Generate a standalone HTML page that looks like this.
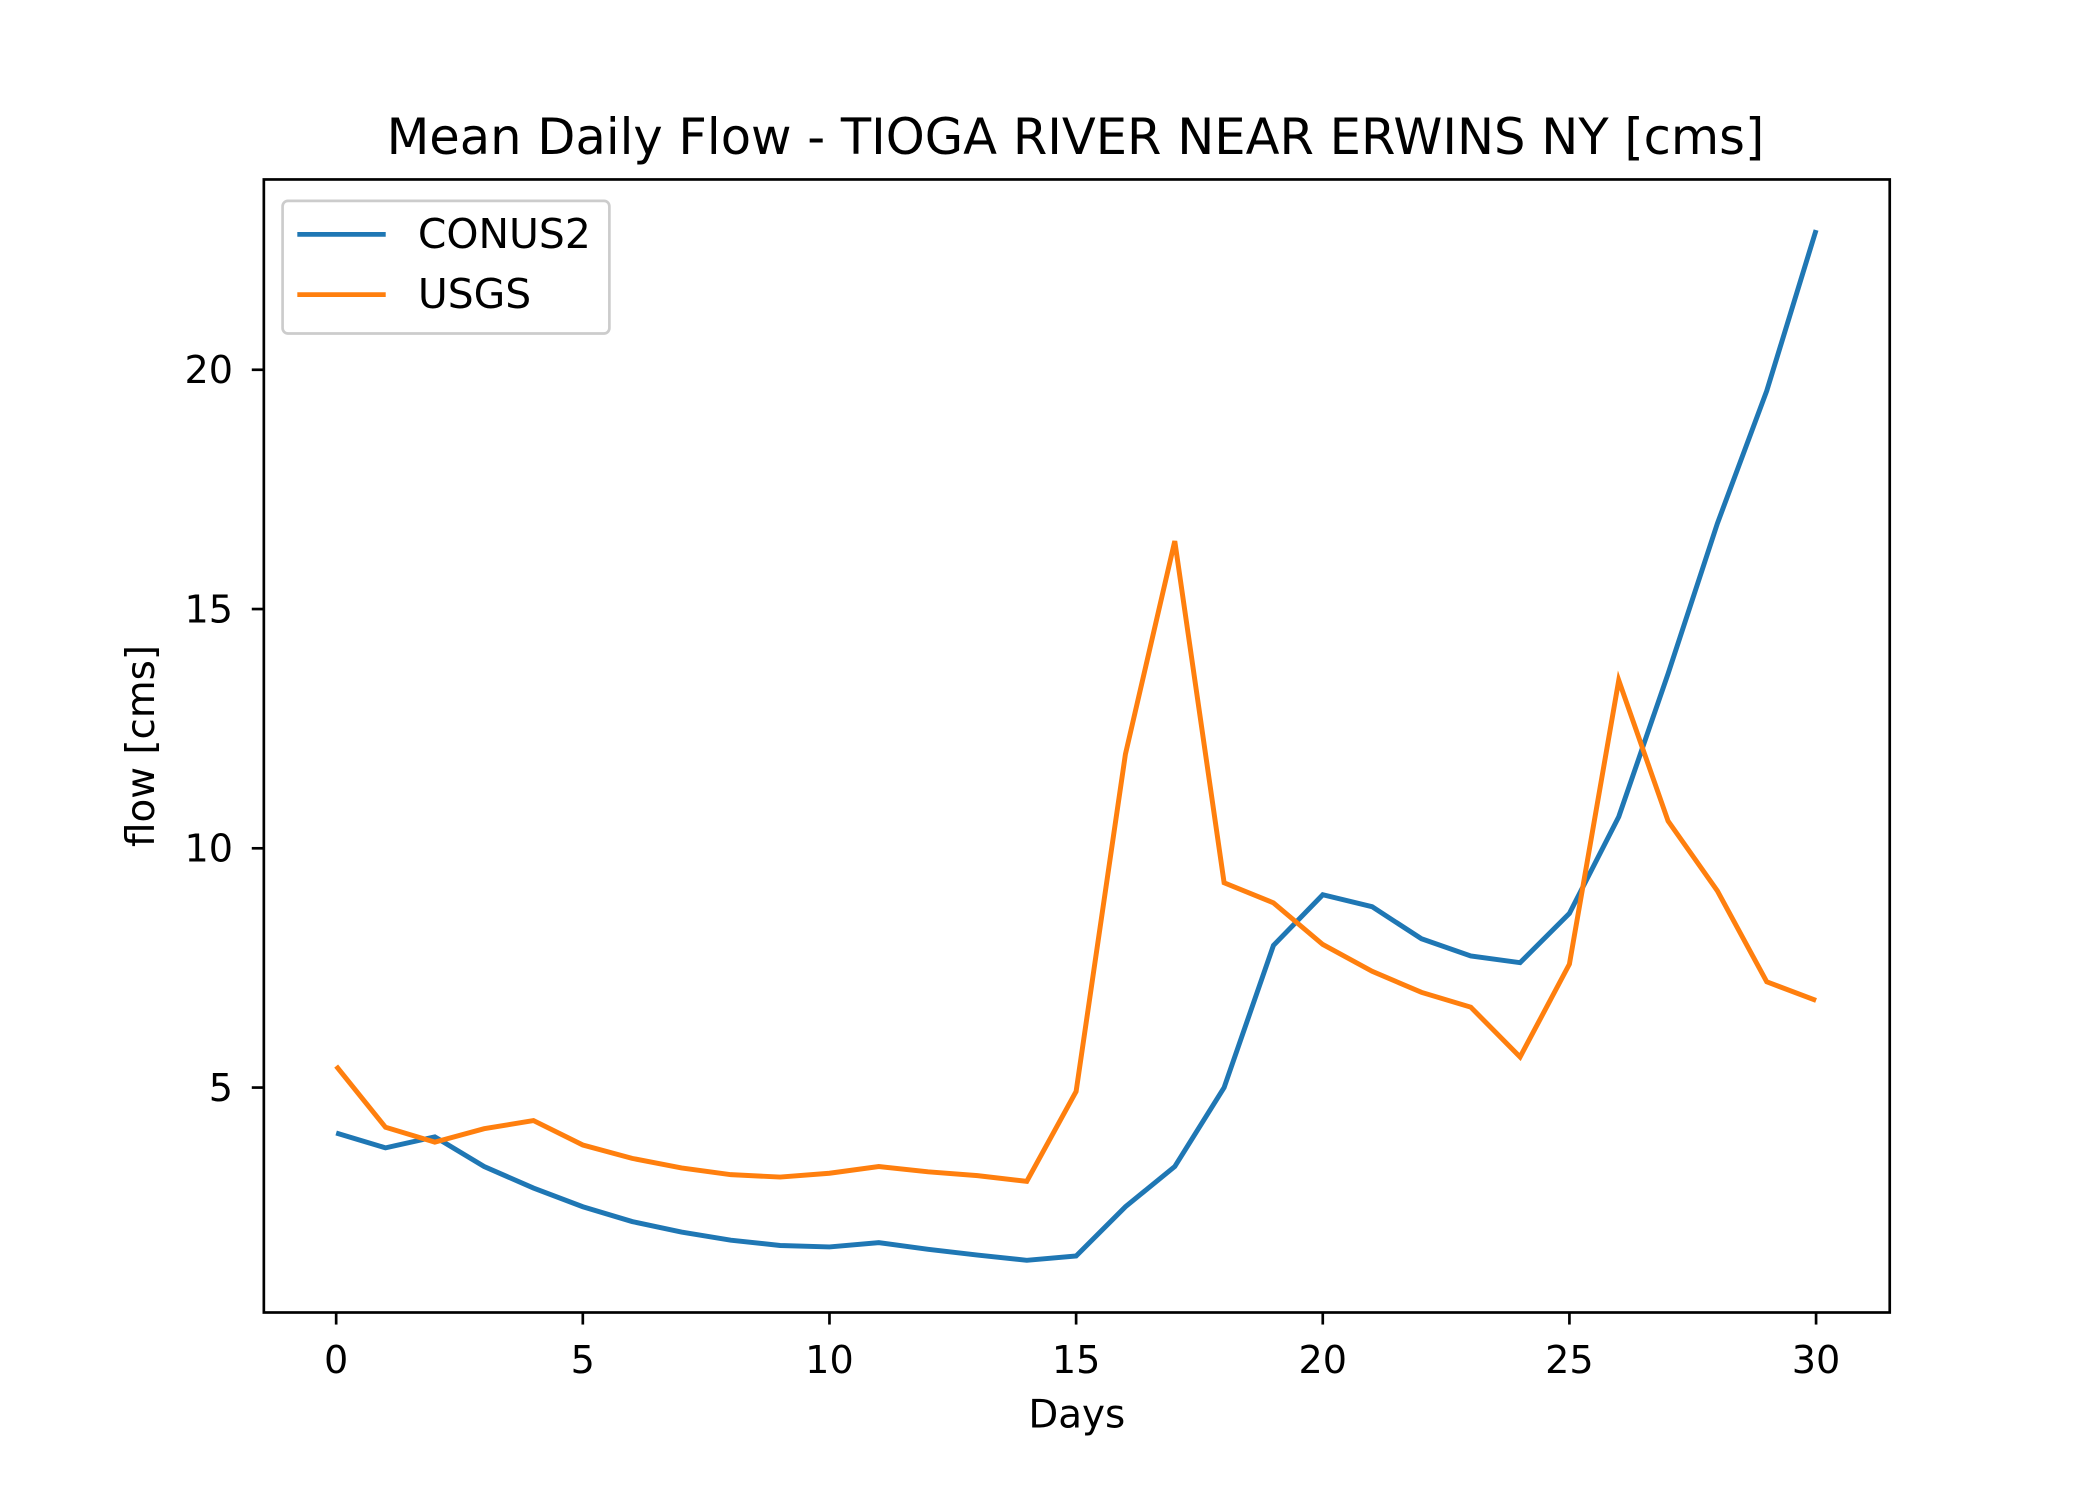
<!DOCTYPE html>
<html><head><meta charset="utf-8"><style>html,body{margin:0;padding:0;background:#fff}svg{display:block}</style></head>
<body>
<svg id="chart" width="2100" height="1500" viewBox="0 0 1568 1120" preserveAspectRatio="none" xmlns="http://www.w3.org/2000/svg" font-family="'DejaVu Sans','Liberation Sans',sans-serif">
<rect width="1568" height="1120" fill="#fff"/>
<text x="803" y="115" font-size="37" text-anchor="middle">Mean Daily Flow - TIOGA RIVER NEAR ERWINS NY [cms]</text>
<g id="plot"></g>
<rect x="197" y="134" width="1214" height="846" fill="none" stroke="#000" stroke-width="2"/>
<text x="804" y="1066" font-size="29" text-anchor="middle">Days</text>
<text x="0" y="0" font-size="29" text-anchor="middle" transform="translate(115,557) rotate(-90)">flow [cms]</text>
<g>
<rect x="211" y="150" width="244" height="99" rx="4" fill="#fff" stroke="#ccc" stroke-width="2"/>
<line x1="222" y1="175" x2="288" y2="175" stroke="#1f77b4" stroke-width="3.5"/>
<text x="312" y="185" font-size="30.5">CONUS2</text>
<line x1="222" y1="220" x2="288" y2="220" stroke="#ff7f0e" stroke-width="3.5"/>
<text x="312" y="230" font-size="30.5">USGS</text>
</g>
</svg>
<script>
const days = [0,1,2,3,4,5,6,7,8,9,10,11,12,13,14,15,16,17,18,19,20,21,22,23,24,25,26,27,28,29,30];
const conus2 = [4.05,3.74,3.97,3.35,2.9,2.51,2.2,1.98,1.81,1.7,1.67,1.76,1.62,1.5,1.39,1.48,2.51,3.35,5.0,7.97,9.03,8.78,8.11,7.75,7.61,8.64,10.66,13.65,16.79,19.56,22.92];
const usgs = [5.45,4.17,3.86,4.14,4.31,3.8,3.52,3.32,3.18,3.13,3.21,3.35,3.24,3.16,3.04,4.92,11.97,16.42,9.28,8.86,7.99,7.43,6.99,6.68,5.64,7.58,13.51,10.57,9.11,7.21,6.82];
const xTicks = [0,5,10,15,20,25,30];
const yTicks = [5,10,15,20];
const NS='http://www.w3.org/2000/svg';
const g=document.getElementById('plot');
function xs(v){return 251+v*(1356-251)/30;}
function ys(v){return 990.7-v*35.73;}
function mk(t,a){const e=document.createElementNS(NS,t);for(const k in a)e.setAttribute(k,a[k]);g.appendChild(e);return e;}
xTicks.forEach(t=>{
  const l=mk('line',{x1:xs(t),x2:xs(t),y1:980,y2:989,stroke:'#000','stroke-width':2});
  
  
  const tx=mk('text',{x:xs(t),y:1025,'font-size':28.5,'text-anchor':'middle'});
  tx.textContent=t;
  
  
});
yTicks.forEach(t=>{
  const l=mk('line',{x1:188,x2:197,y1:ys(t),y2:ys(t),stroke:'#000','stroke-width':2});
  
  
  const tx=mk('text',{x:174,y:ys(t)+10,'font-size':28.5,'text-anchor':'end'});
  tx.textContent=t;
  
  
});
function line(vals,color,name){
  const p=mk('polyline',{points:vals.map((v,i)=>xs(days[i])+','+ys(v)).join(' '),fill:'none',stroke:color,'stroke-width':3.7,'stroke-linejoin':'miter'});
  
  
}
line(conus2,'#1f77b4','conus2-line');
line(usgs,'#ff7f0e','usgs-line');
</script>
</body></html>
